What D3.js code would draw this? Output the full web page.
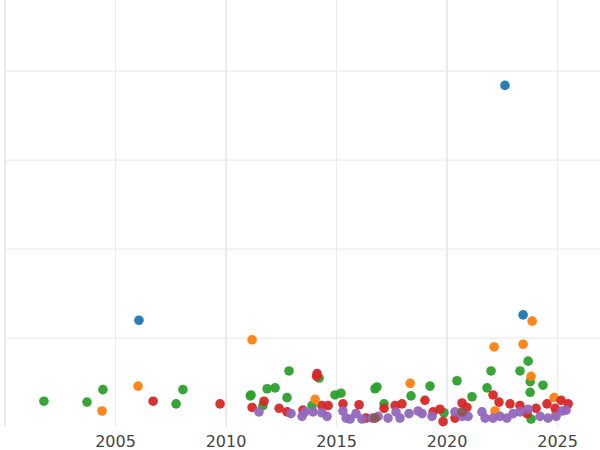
<!DOCTYPE html>
<html><head><meta charset="utf-8">
<script src="https://cdn.jsdelivr.net/npm/d3@7"></script>
<style>body{margin:0;background:#fff}svg{font-family:"DejaVu Sans",sans-serif}</style>
</head><body><svg id="chart" width="600" height="450"></svg>
<script>
// series: [year, value]
const blue = [[2006.06,1.20],[2022.62,3.84],[2023.44,1.26]];
const orange = [[2004.39,0.18],[2006.02,0.46],[2011.18,0.98],[2014.03,0.31],[2018.33,0.49],[2022.13,0.90],
  [2023.44,0.93],[2023.85,1.19],[2023.8,0.57],[2024.84,0.33],[2022.17,0.18],[2024.93,0.15]];
const green = [[2001.76,0.29],[2003.71,0.28],[2004.43,0.42],[2007.74,0.26],[2008.05,0.42],[2011.13,0.36],
  [2011.86,0.43],[2012.22,0.44],[2012.85,0.63],[2012.76,0.33],[2011.67,0.24],[2014.21,0.55],[2013.89,0.24],
  [2014.93,0.36],[2015.2,0.38],[2016.74,0.43],[2016.83,0.45],[2017.15,0.26],[2018.37,0.35],[2019.23,0.46],
  [2019.86,0.16],[2020.45,0.52],[2021.13,0.34],[2021.81,0.44],[2021.99,0.63],[2023.67,0.74],[2023.76,0.51],
  [2023.76,0.39],[2024.34,0.47],[2023.8,0.09],[2023.3,0.63],[2011.1,0.35]];
const red = [[2006.7,0.29],[2009.73,0.26],[2011.18,0.22],[2011.72,0.29],[2012.4,0.21],[2012.76,0.17],
  [2013.48,0.19],[2014.12,0.60],[2014.34,0.24],[2014.62,0.24],[2015.29,0.26],[2016.02,0.25],[2016.33,0.10],
  [2017.15,0.21],[2017.65,0.24],[2017.96,0.26],[2019.0,0.30],[2019.68,0.20],[2019.82,0.06],[2020.68,0.27],
  [2020.9,0.22],[2022.08,0.36],[2022.35,0.28],[2022.85,0.26],[2023.3,0.24],[2023.62,0.15],[2024.03,0.21],
  [2024.52,0.26],[2025.16,0.30],[2025.48,0.26],[2024.89,0.21],[2020.36,0.10],[2019.37,0.17],[2014.1,0.57]];
const purple = [[2011.49,0.17],[2012.94,0.15],[2013.44,0.12],[2013.57,0.17],[2013.94,0.17],[2014.34,0.16],
  [2014.57,0.12],[2015.29,0.18],[2015.43,0.10],[2015.61,0.09],[2015.88,0.15],[2016.15,0.09],[2016.61,0.10],
  [2016.88,0.12],[2017.33,0.10],[2017.69,0.17],[2017.87,0.10],[2018.28,0.15],[2018.69,0.18],[2018.87,0.15],
  [2019.32,0.12],[2020.36,0.17],[2020.68,0.12],[2020.95,0.12],[2021.58,0.17],[2021.72,0.10],[2022.08,0.10],
  [2022.4,0.12],[2022.71,0.10],[2022.99,0.15],[2023.3,0.17],[2023.67,0.20],[2024.21,0.12],[2024.57,0.10],
  [2024.93,0.12],[2025.2,0.18],[2025.39,0.19]];
const brown = [[2016.74,0.10],[2020.68,0.17]];
const xTicks = [2005, 2010, 2015, 2020, 2025];
const yGrid = [1, 2, 3, 4];

const svg = d3.select("#chart");
const x = d3.scaleLinear().domain([2000, 2026.92]).range([5, 600]);
const y = d3.scaleLinear().domain([0, 4.8]).range([427, 0]);

// grid
svg.selectAll(".hg").data(yGrid).enter().append("line")
  .attr("x1", 5).attr("x2", 600).attr("y1", d => y(d)).attr("y2", d => y(d))
  .attr("stroke", "#ebebeb").attr("stroke-width", 1.2);
svg.selectAll(".vg").data([2000].concat(xTicks)).enter().append("line")
  .attr("x1", d => x(d)).attr("x2", d => x(d)).attr("y1", 0).attr("y2", 427)
  .attr("stroke", "#ebebeb").attr("stroke-width", d => d % 10 === 0 ? 2 : 1.2);

svg.selectAll(".xl").data(xTicks).enter().append("text")
  .attr("x", d => x(d)).attr("y", 447).attr("text-anchor", "middle")
  .attr("font-size", 16).attr("fill", "#444").text(d => d);

const series = [[green, "#2ca02c"], [orange, "#ff7f0e"], [red, "#d62728"], [purple, "#9467bd"], [brown, "#8c564b"], [blue, "#1f77b4"]];
series.forEach(([data, color]) => {
  svg.append("g").selectAll("circle").data(data).enter().append("circle")
    .attr("cx", d => x(d[0])).attr("cy", d => y(d[1])).attr("r", 4.8)
    .attr("fill", color).attr("fill-opacity", 0.95);
});
</script></body></html>
